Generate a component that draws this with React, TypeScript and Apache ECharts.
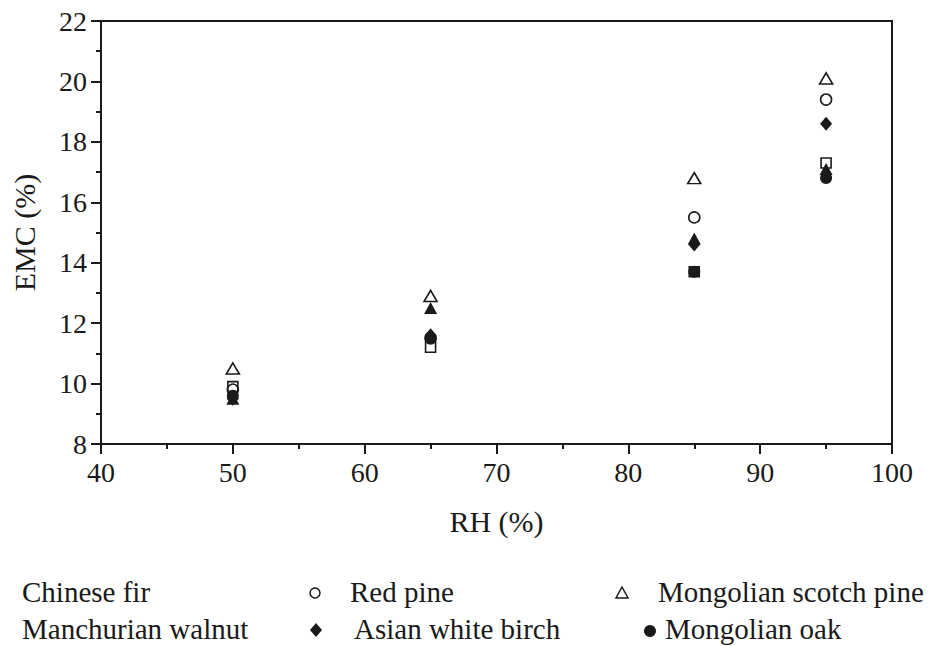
import React, { useEffect, useRef } from "react";
import * as echarts from "echarts";

const rhValues = [50, 65, 85, 95];
const seriesNames = [
  "Chinese fir",
  "Red pine",
  "Mongolian scotch pine",
  "Manchurian walnut",
  "Asian white birch",
  "Mongolian oak",
];
const chineseFir = [9.9, 11.2, 13.7, 17.3];
const redPine = [9.8, 11.5, 15.5, 19.4];
const mongolianScotchPine = [10.5, 12.9, 16.8, 20.1];
const manchurianWalnut = [9.5, 12.5, 14.8, 17.1];
const asianWhiteBirch = [9.5, 11.6, 14.6, 18.6];
const mongolianOak = [9.6, 11.5, 13.7, 16.8];
const xTicks = [40, 50, 60, 70, 80, 90, 100];
const yTicks = [8, 10, 12, 14, 16, 18, 20, 22];

const INK = "#1a1a1a";
const FONT = "'Liberation Serif', 'Times New Roman', Times, serif";

export default function App() {
  const ref = useRef<HTMLDivElement>(null);
  useEffect(() => {
    if (!ref.current) return;
    const chart = echarts.init(ref.current, null, { renderer: "svg" });
    const pairs = (vals: number[]) => rhValues.map((x, i) => [x, vals[i]]);
    const open = { color: "rgba(255,255,255,0)", borderColor: INK, borderWidth: 1.6, opacity: 1 };
    const filled = { color: INK, opacity: 1 };
    const series: any[] = [
      { name: seriesNames[0], data: pairs(chineseFir), symbol: "rect", symbolSize: 10, itemStyle: open },
      { name: seriesNames[1], data: pairs(redPine), symbol: "circle", symbolSize: 11, itemStyle: open },
      { name: seriesNames[2], data: pairs(mongolianScotchPine), symbol: "triangle", symbolSize: [13, 11], itemStyle: open },
      { name: seriesNames[3], data: pairs(manchurianWalnut), symbol: "triangle", symbolSize: [13, 12], itemStyle: filled },
      { name: seriesNames[4], data: pairs(asianWhiteBirch), symbol: "diamond", symbolSize: [12, 14], itemStyle: filled },
      { name: seriesNames[5], data: pairs(mongolianOak), symbol: "circle", symbolSize: 12, itemStyle: filled },
    ].map((s) => ({ type: "scatter", emphasis: { disabled: true }, ...s }));

    const axisCommon = {
      axisLine: { show: true, onZero: false, lineStyle: { color: INK, width: 2 } },
      axisTick: { show: true, inside: false, length: 10, lineStyle: { color: INK, width: 2 } },
      minorTick: { show: true, splitNumber: 2, length: 5, lineStyle: { color: INK, width: 2 } },
      splitLine: { show: false },
      nameTextStyle: { fontFamily: FONT, fontSize: 30, color: INK },
    };

    const legendText = (text: string, x: number, y: number) => ({
      type: "text",
      x,
      y,
      style: { text, fontFamily: FONT, fontSize: 29, fill: INK, textVerticalAlign: "middle" },
    });

    const r1 = 592;
    const r2 = 629;
    chart.setOption({
      animation: false,
      backgroundColor: "#ffffff",
      grid: { left: 101, right: 49, top: 21, bottom: 202, show: true, borderColor: INK, borderWidth: 2, containLabel: false },
      xAxis: {
        type: "value",
        min: xTicks[0],
        max: xTicks[xTicks.length - 1],
        interval: 10,
        name: "RH (%)",
        nameLocation: "middle",
        nameGap: 62,
        ...axisCommon,
        axisLabel: { fontFamily: FONT, fontSize: 28, color: INK, margin: 14 },
      },
      yAxis: {
        type: "value",
        min: yTicks[0],
        max: yTicks[yTicks.length - 1],
        interval: 2,
        name: "EMC (%)",
        nameLocation: "middle",
        nameGap: 62,
        ...axisCommon,
        axisLabel: { fontFamily: FONT, fontSize: 28, color: INK, margin: 14 },
      },
      series,
      graphic: [
        legendText(seriesNames[0], 22, r1),
        { type: "circle", shape: { cx: 315, cy: r1 + 1, r: 5 }, style: { fill: "none", stroke: INK, lineWidth: 1.5 } },
        legendText(seriesNames[1], 350, r1),
        { type: "polygon", shape: { points: [[622, r1 - 5], [628, r1 + 6], [616, r1 + 6]] }, style: { fill: "none", stroke: INK, lineWidth: 1.5 } },
        legendText(seriesNames[2], 658, r1),
        legendText(seriesNames[3], 22, r2),
        { type: "polygon", shape: { points: [[316, r2 - 6], [322, r2 + 1], [316, r2 + 8], [310, r2 + 1]] }, style: { fill: INK } },
        legendText(seriesNames[4], 354, r2),
        { type: "circle", shape: { cx: 650, cy: r2 + 2, r: 6 }, style: { fill: INK } },
        legendText(seriesNames[5], 665, r2),
      ],
    });
    return () => chart.dispose();
  }, []);
  return <div ref={ref} style={{ width: 941, height: 646, position: "absolute", left: 0, top: 0 }} />;
}
